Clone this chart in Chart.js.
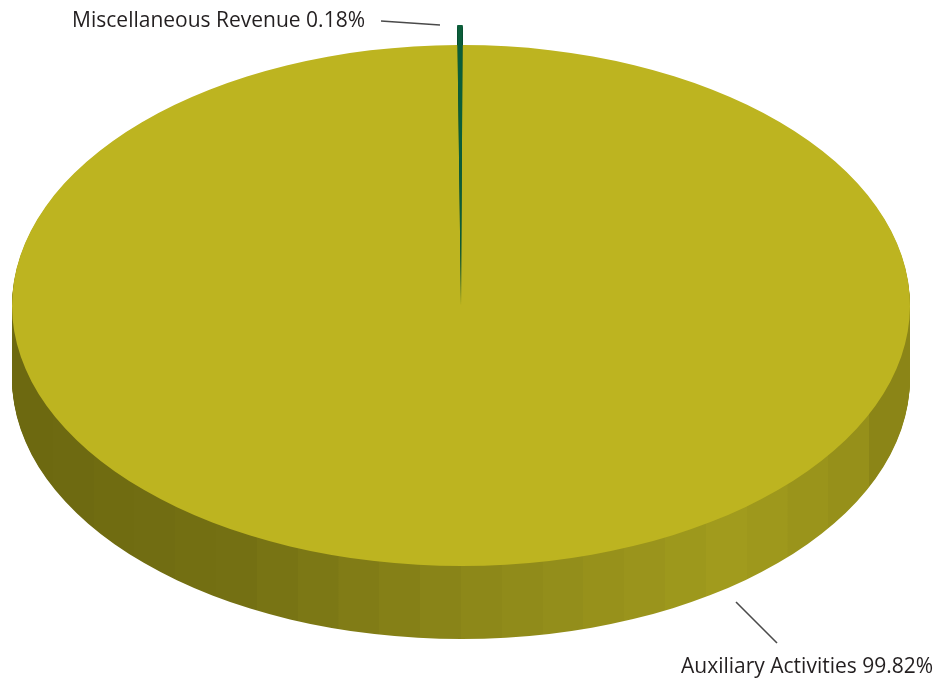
<!DOCTYPE html>
<html>
<head>
<meta charset="utf-8">
<script src="https://cdn.jsdelivr.net/npm/chart.js@4/dist/chart.umd.min.js"></script>
<style>
  html, body { margin: 0; padding: 0; background: #fff; }
  #wrap { width: 938px; height: 682px; }
</style>
</head>
<body>
<div id="wrap"><canvas id="revenueChart"></canvas></div>
<script>
const categories = ['Auxiliary Activities', 'Miscellaneous Revenue'];
const shares = [99.82, 0.18];

const topColors = ['#bdb420', '#0b5e3a'];
const wallColors = [null, '#063b24'];
// extra height (px on the page) a slice reaches past the rim
const sliceLift = [0, 20];

// where the flattened disc sits on the page
const PIE = { cx: 461, cy: 305.5, rx: 449, ry: 260.5, depth: 73 };

// label text anchors and leader lines
const LABELS = [
  { align: 'left', x: 681, y: 673, line: [736, 602, 777, 643] },
  { align: 'right', x: 365, y: 27, line: [381, 21, 440, 25] }
];

// banded shading for the rim, dark on the left, light towards the right
function rimFill(ctx, x0, x1) {
  const g = ctx.createLinearGradient(x0, 0, x1, 0);
  const stops = [
    [0.00, [0x6c, 0x68, 0x10]],
    [0.25, [0x74, 0x70, 0x13]],
    [0.50, [0x8b, 0x86, 0x19]],
    [0.80, [0xa1, 0x9b, 0x1d]],
    [0.93, [0x96, 0x90, 0x1a]],
    [1.00, [0x86, 0x80, 0x16]]
  ];
  const bands = 22;
  const colorAt = t => {
    let i = 0;
    while (i < stops.length - 2 && t > stops[i + 1][0]) i++;
    const [a, ca] = stops[i], [b, cb] = stops[i + 1];
    const k = (t - a) / (b - a);
    return 'rgb(' + ca.map((c, j) => Math.round(c + (cb[j] - c) * k)).join(',') + ')';
  };
  for (let i = 0; i < bands; i++) {
    const c = colorAt((i + 0.5) / bands);
    g.addColorStop(i / bands, c);
    g.addColorStop((i + 1) / bands - 0.0001, c);
  }
  return g;
}

const tiltPlugin = {
  id: 'tilt',
  beforeDatasetsDraw(chart) {
    const ctx = chart.ctx;
    const arcs = chart.getDatasetMeta(0).data;
    const base = arcs[0];
    const R = base.outerRadius;
    const toPage = () => {
      ctx.translate(PIE.cx, PIE.cy);
      ctx.scale(PIE.rx / R, PIE.ry / R);
      ctx.translate(-base.x, -base.y);
    };
    const stretch = i => {
      const k = 1 + sliceLift[i] / PIE.ry;
      ctx.translate(base.x, base.y);
      ctx.scale(k, k);
      ctx.translate(-base.x, -base.y);
    };
    const rim = rimFill(ctx, base.x - R, base.x + R);

    // side wall: stacked copies of every slice
    for (let dy = PIE.depth; dy >= 1; dy--) {
      arcs.forEach((arc, i) => {
        ctx.save();
        ctx.translate(0, dy);
        toPage();
        stretch(i);
        const opts = arc.options;
        arc.options = { ...opts, backgroundColor: wallColors[i] || rim, borderWidth: 0 };
        arc.draw(ctx);
        arc.options = opts;
        ctx.restore();
      });
    }

    // top faces
    arcs.forEach((arc, i) => {
      ctx.save();
      toPage();
      stretch(i);
      arc.draw(ctx);
      ctx.restore();
    });
    return false;
  },
  afterDraw(chart) {
    const ctx = chart.ctx;
    const total = shares.reduce((a, b) => a + b, 0);
    ctx.save();
    ctx.font = '21px "Open Sans", "Noto Sans", sans-serif';
    ctx.fillStyle = '#231f20';
    ctx.strokeStyle = '#4a4a4a';
    ctx.lineWidth = 1.6;
    categories.forEach((name, i) => {
      const lab = LABELS[i];
      const pct = (shares[i] / total * 100).toFixed(2) + '%';
      ctx.textAlign = lab.align;
      ctx.textBaseline = 'alphabetic';
      ctx.fillText(name + ' ' + pct, lab.x, lab.y);
      const [x1, y1, x2, y2] = lab.line;
      ctx.beginPath();
      ctx.moveTo(x1, y1);
      ctx.lineTo(x2, y2);
      ctx.stroke();
    });
    ctx.restore();
  }
};

new Chart(document.getElementById('revenueChart'), {
  type: 'pie',
  data: {
    labels: categories,
    datasets: [{
      data: shares,
      backgroundColor: topColors,
      borderWidth: 0
    }]
  },
  options: {
    responsive: true,
    maintainAspectRatio: false,
    animation: false,
    events: [],
    rotation: 0.2,
    layout: { padding: 0 },
    plugins: {
      legend: { display: false },
      tooltip: { enabled: false }
    }
  },
  plugins: [tiltPlugin]
});
</script>
</body>
</html>
